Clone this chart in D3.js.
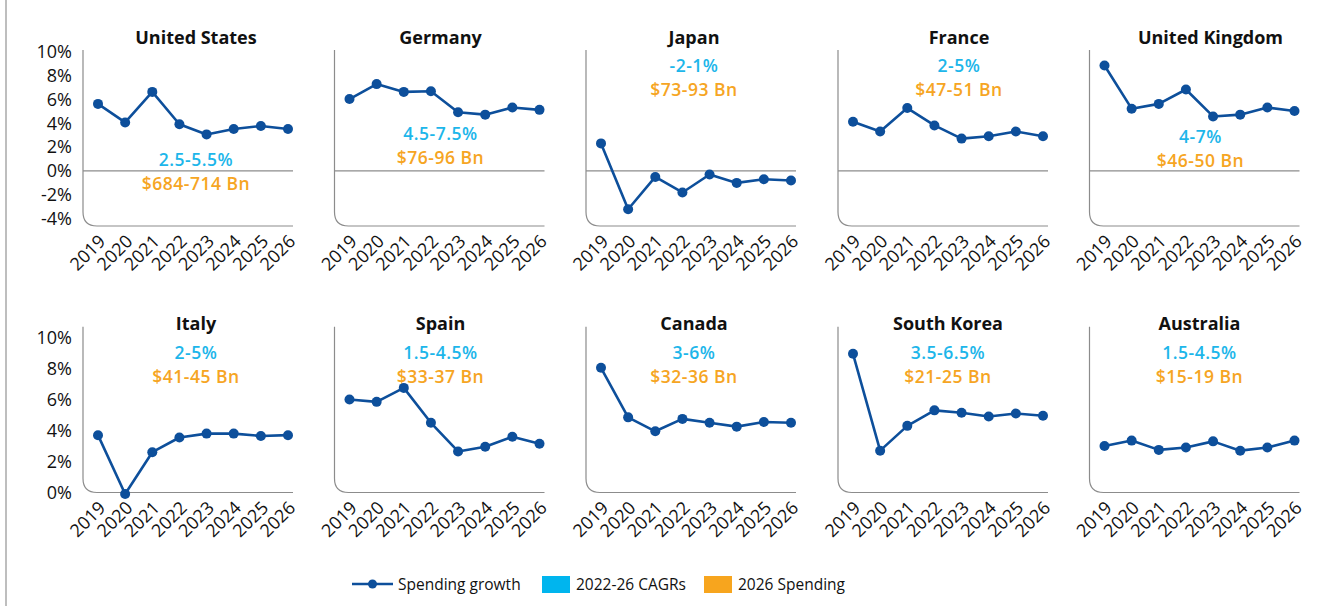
<!DOCTYPE html>
<html>
<head>
<meta charset="utf-8">
<script src="https://cdn.jsdelivr.net/npm/d3@7"></script>
<style>
  html, body { margin: 0; padding: 0; background: #fff; }
  svg { display: block; font-family: "Open Sans", "Noto Sans", sans-serif; }
</style>
</head>
<body>
<svg id="chart" width="1327" height="606"></svg>
<script>
// ---------------- DATA ----------------
const years = ["2019", "2020", "2021", "2022", "2023", "2024", "2025", "2026"];
const countries = ["United States", "Germany", "Japan", "France", "United Kingdom",
                   "Italy", "Spain", "Canada", "South Korea", "Australia"];
const growthUS = [5.6, 4.05, 6.6, 3.9, 3.05, 3.5, 3.75, 3.5];
const growthDE = [6.0, 7.25, 6.6, 6.65, 4.9, 4.7, 5.3, 5.1];
const growthJP = [2.3, -3.2, -0.5, -1.8, -0.3, -1.0, -0.7, -0.8];
const growthFR = [4.1, 3.3, 5.25, 3.8, 2.7, 2.9, 3.3, 2.9];
const growthUK = [8.8, 5.2, 5.6, 6.8, 4.55, 4.7, 5.3, 5.0];
const growthIT = [3.7, -0.1, 2.6, 3.55, 3.8, 3.8, 3.65, 3.7];
const growthES = [6.0, 5.85, 6.75, 4.5, 2.65, 2.95, 3.6, 3.15];
const growthCA = [8.05, 4.85, 3.95, 4.75, 4.5, 4.25, 4.55, 4.5];
const growthKR = [8.95, 2.7, 4.3, 5.3, 5.15, 4.9, 5.1, 4.95];
const growthAU = [3.0, 3.35, 2.75, 2.9, 3.3, 2.7, 2.9, 3.35];
const growthSeries = [growthUS, growthDE, growthJP, growthFR, growthUK,
                      growthIT, growthES, growthCA, growthKR, growthAU];
const cagrLabels = ["2.5-5.5%", "4.5-7.5%", "-2-1%", "2-5%", "4-7%",
                    "2-5%", "1.5-4.5%", "3-6%", "3.5-6.5%", "1.5-4.5%"];
const spendLabels = ["$684-714 Bn", "$76-96 Bn", "$73-93 Bn", "$47-51 Bn", "$46-50 Bn",
                     "$41-45 Bn", "$33-37 Bn", "$32-36 Bn", "$21-25 Bn", "$15-19 Bn"];
const topTicks = [-4, -2, 0, 2, 4, 6, 8, 10];
const bottomTicks = [0, 2, 4, 6, 8, 10];
const legendLabels = ["Spending growth", "2022-26 CAGRs", "2026 Spending"];

// ---------------- LAYOUT / STYLE ----------------
const colLine = "#0d4f9b";
const colCyan = "#1db6ea";
const colOrange = "#f6a523";
const colAxis = "#8c8c8c";
const plotW = 210;
const colX = [83, 334.5, 586, 838, 1089.5];
const titleDx = [113, 106, 108, 121, 121, 113, 106, 108, 110, 110];
const annoDx  = [113, 106, 108, 121, 111, 113, 106, 108, 110, 110];
const annoY   = [160, 134, 66, 66, 137, 353, 353, 353, 353, 353];
const rows = [
  { domain: [-4.6, 10.1], range: [226, 50], ticks: topTicks, titleY: 44, zeroLine: true },
  { domain: [0, 10.7], range: [492.5, 326.7], ticks: bottomTicks, titleY: 330, zeroLine: false }
];

const svg = d3.select("#chart");

// left frame line
svg.append("line").attr("x1", 6).attr("x2", 6).attr("y1", 0).attr("y2", 606)
  .attr("stroke", "#a8a8a8").attr("stroke-width", 1.5);

countries.forEach((name, i) => {
  const r = rows[Math.floor(i / 5)];
  const c = i % 5;
  const x0 = colX[c];
  const y = d3.scaleLinear().domain(r.domain).range(r.range);
  const x = d3.scalePoint().domain(years).range([x0 + 15, x0 + 205]);
  const g = svg.append("g");
  const yTop = y(r.domain[1]), yBot = y(r.domain[0]);
  const rad = 14;

  // axis frame with rounded corner
  g.append("path")
    .attr("d", `M${x0},${yTop} L${x0},${yBot - rad} Q${x0},${yBot} ${x0 + rad},${yBot} L${x0 + plotW},${yBot}`)
    .attr("fill", "none").attr("stroke", colAxis).attr("stroke-width", 1.2);

  if (r.zeroLine) {
    g.append("line").attr("x1", x0).attr("x2", x0 + plotW)
      .attr("y1", y(0)).attr("y2", y(0))
      .attr("stroke", colAxis).attr("stroke-width", 1.2);
  }

  // y tick labels on first column
  if (c === 0) {
    g.selectAll("text.yt").data(r.ticks).join("text")
      .attr("class", "yt")
      .attr("x", x0 - 11).attr("y", d => y(d)).attr("dy", "0.36em")
      .attr("text-anchor", "end").attr("font-size", 18).attr("fill", "#111")
      .text(d => d + "%");
  }

  // x labels (rotated)
  g.selectAll("text.xt").data(years).join("text")
    .attr("class", "xt")
    .attr("transform", d => `translate(${x(d) + 4},${yBot + 12}) rotate(-45)`)
    .attr("dy", "0.36em")
    .attr("text-anchor", "end").attr("font-size", 18).attr("fill", "#111")
    .text(d => d);

  // title
  g.append("text").attr("x", x0 + titleDx[i]).attr("y", r.titleY)
    .attr("text-anchor", "middle").attr("font-size", 18).attr("font-weight", 700)
    .attr("fill", "#111").text(name);

  // annotations
  g.append("text").attr("x", x0 + annoDx[i]).attr("y", annoY[i]).attr("dy", "0.36em")
    .attr("text-anchor", "middle").attr("font-size", 17.5).attr("font-weight", 600)
    .attr("letter-spacing", 0.5)
    .attr("fill", colCyan).text(cagrLabels[i]);
  g.append("text").attr("x", x0 + annoDx[i]).attr("y", annoY[i] + 24).attr("dy", "0.36em")
    .attr("text-anchor", "middle").attr("font-size", 17.5).attr("font-weight", 600)
    .attr("letter-spacing", 0.5)
    .attr("fill", colOrange).text(spendLabels[i]);

  // line + points
  const vals = growthSeries[i];
  const line = d3.line().x((d, k) => x(years[k])).y(d => y(d));
  g.append("path").datum(vals).attr("d", line)
    .attr("fill", "none").attr("stroke", colLine).attr("stroke-width", 2.6)
    .attr("stroke-linejoin", "round");
  g.selectAll("circle").data(vals).join("circle")
    .attr("cx", (d, k) => x(years[k])).attr("cy", d => y(d)).attr("r", 5)
    .attr("fill", colLine);
});

// legend
const lg = svg.append("g").attr("font-size", 15.5).attr("fill", "#111");
lg.append("line").attr("x1", 352).attr("x2", 393).attr("y1", 584).attr("y2", 584)
  .attr("stroke", colLine).attr("stroke-width", 2.6);
lg.append("circle").attr("cx", 372.5).attr("cy", 584).attr("r", 4.5).attr("fill", colLine);
lg.append("text").attr("x", 398).attr("y", 584).attr("dy", "0.36em").text(legendLabels[0]);
lg.append("rect").attr("x", 542).attr("y", 576).attr("width", 28).attr("height", 17).attr("fill", "#00b5ee");
lg.append("text").attr("x", 576).attr("y", 584).attr("dy", "0.36em").text(legendLabels[1]);
lg.append("rect").attr("x", 704).attr("y", 576).attr("width", 28).attr("height", 17).attr("fill", "#f7a51e");
lg.append("text").attr("x", 738).attr("y", 584).attr("dy", "0.36em").text(legendLabels[2]);
</script>
</body>
</html>
